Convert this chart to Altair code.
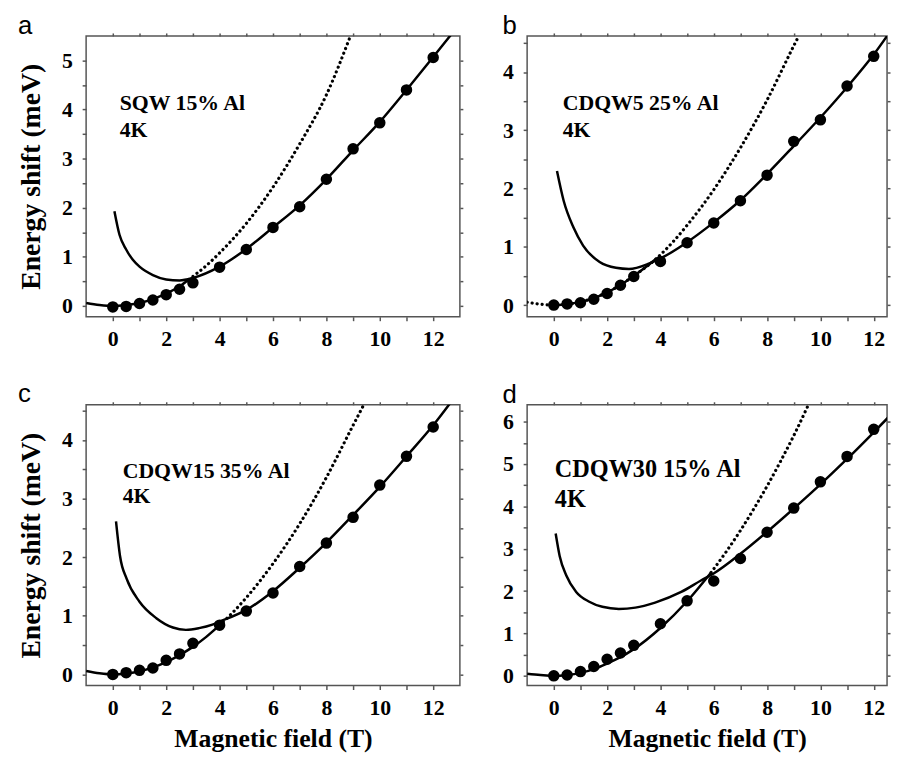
import altair as alt
import pandas as pd

# ---------------- data ----------------
field_pts = [0, 0.5, 1, 1.5, 2, 2.5, 3, 4, 5, 6, 7, 8, 9, 10, 11, 12]

# panel a : SQW 15% Al
a_pts = [-0.02, -0.01, 0.05, 0.12, 0.23, 0.34, 0.47, 0.79, 1.15, 1.6, 2.02, 2.58, 3.2, 3.73, 4.4, 5.06]
a_low_x = [-1, -0.5, 0, 0.5, 1, 1.5, 2, 2.5, 2.85]
a_low_y = [0.06, 0.02, 0, 0.02, 0.06, 0.14, 0.25, 0.4, 0.54]
a_dot_x = [2.85, 3.5, 4, 5, 6, 7, 8, 8.9]
a_dot_y = [0.54, 0.82, 1.08, 1.68, 2.42, 3.3, 4.3, 5.5]
a_high_x = [0.06, 0.25, 0.5, 0.75, 1.0, 1.5, 2.0, 2.5, 3.0, 4, 5, 6, 7, 8, 9, 10, 11, 12, 13]
a_high_y = [1.93, 1.45, 1.15, 0.94, 0.8, 0.63, 0.54, 0.52, 0.57, 0.8, 1.16, 1.6, 2.05, 2.58, 3.17, 3.75, 4.4, 5.07, 5.75]

# panel b : CDQW5 25% Al
b_pts = [0, 0.02, 0.04, 0.1, 0.2, 0.34, 0.49, 0.75, 1.07, 1.41, 1.79, 2.23, 2.81, 3.18, 3.76, 4.27]
b_low_x = [0, 0.5, 1, 1.5, 2, 2.5, 3, 3.5, 3.85]
b_low_y = [0, 0.015, 0.055, 0.12, 0.22, 0.34, 0.5, 0.67, 0.8]
b_dot_x = [-1, -0.5, 0, 0.5, 1, 2, 3, 3.85, 4.5, 5, 6, 7, 8, 9, 9.2]
b_dot_y = [0.05, 0.015, 0, 0.015, 0.055, 0.22, 0.5, 0.8, 1.1, 1.37, 1.98, 2.7, 3.52, 4.45, 4.63]
b_high_x = [0.12, 0.37, 0.74, 1.1, 1.72, 2.33, 2.82, 3.56, 4.0, 5, 6, 7, 8, 9, 10, 11, 12, 13]
b_high_y = [2.3, 1.79, 1.33, 1.02, 0.74, 0.64, 0.62, 0.71, 0.8, 1.08, 1.42, 1.8, 2.25, 2.73, 3.22, 3.74, 4.3, 4.95]

# panel c : CDQW15 35% Al
c_pts = [0, 0.03, 0.07, 0.11, 0.24, 0.35, 0.53, 0.84, 1.08, 1.39, 1.84, 2.24, 2.68, 3.23, 3.72, 4.22]
c_low_x = [-1, -0.5, 0, 0.5, 1, 1.5, 2, 2.5, 3, 3.5, 4.0]
c_low_y = [0.06, 0.02, 0, 0.015, 0.05, 0.12, 0.21, 0.33, 0.47, 0.64, 0.84]
c_dot_x = [4.0, 4.5, 5, 6, 7, 8, 9, 9.4]
c_dot_y = [0.84, 1.06, 1.31, 1.89, 2.57, 3.36, 4.25, 4.6]
c_high_x = [0.12, 0.27, 0.52, 1.0, 1.63, 2.25, 2.74, 3.23, 3.73, 4.0, 5, 6, 7, 8, 9, 10, 11, 12, 13]
c_high_y = [2.61, 2.02, 1.63, 1.24, 0.96, 0.8, 0.76, 0.79, 0.85, 0.9, 1.1, 1.42, 1.82, 2.25, 2.72, 3.2, 3.72, 4.25, 4.85]

# panel d : CDQW30 15% Al
d_pts = [0, 0.02, 0.1, 0.22, 0.39, 0.54, 0.72, 1.23, 1.77, 2.24, 2.77, 3.39, 3.96, 4.58, 5.18, 5.82]
d_low_x = [-1, -0.5, 0, 0.5, 1, 1.5, 2, 2.5, 3, 4, 5, 5.9]
d_low_y = [0.05, 0.02, 0, 0.02, 0.07, 0.16, 0.29, 0.44, 0.63, 1.13, 1.76, 2.44]
d_dot_x = [5.9, 6.5, 7, 7.5, 8, 8.5, 9, 9.55]
d_dot_y = [2.44, 2.96, 3.43, 3.94, 4.48, 5.06, 5.67, 6.4]
d_high_x = [0.07, 0.22, 0.47, 0.84, 1.33, 1.82, 2.44, 3.06, 3.8, 4.78, 5.52, 5.98, 7, 8, 9, 10, 11, 12, 13]
d_high_y = [3.36, 2.83, 2.37, 1.98, 1.75, 1.63, 1.58, 1.61, 1.73, 1.98, 2.25, 2.41, 2.88, 3.4, 3.95, 4.52, 5.12, 5.75, 6.4]

x_ticks = [0, 1, 2, 3, 4, 5, 6, 7, 8, 9, 10, 11, 12]
y_ticks_a = [0, 0.5, 1, 1.5, 2, 2.5, 3, 3.5, 4, 4.5, 5]
y_ticks_bc = [0, 0.5, 1, 1.5, 2, 2.5, 3, 3.5, 4, 4.5]
y_ticks_d = [0, 0.5, 1, 1.5, 2, 2.5, 3, 3.5, 4, 4.5, 5, 5.5, 6]

labels = ["a", "b", "c", "d"]
samples = ["SQW 15% Al", "CDQW5 25% Al", "CDQW15 35% Al", "CDQW30 15% Al"]
temp = "4K"
x_title = "Magnetic field (T)"
y_title = "Energy shift (meV)"

SERIF = "Liberation Serif"
FRAME = "#555555"


def panel(letter, sample, pts, low_x, low_y, dot_x, dot_y, high_x, high_y,
          ydom, yvals, xmax, width, show_ytitle, show_xtitle,
          ann_x, ann_y, ann_size, ann_gap):
    xscale = alt.Scale(domain=[-1, xmax], nice=False, zero=False)
    yscale = alt.Scale(domain=ydom, nice=False, zero=False)

    x_main = alt.X("B:Q", scale=xscale,
                   axis=alt.Axis(values=x_ticks,
                                 labelExpr="datum.value % 2 == 0 ? format(datum.value, 'd') : ''",
                                 title=x_title if show_xtitle else None))
    y_main = alt.Y("E:Q", scale=yscale,
                   axis=alt.Axis(values=yvals,
                                 labelExpr="datum.value % 1 == 0 ? format(datum.value, 'd') : ''",
                                 title=y_title if show_ytitle else None,
                                 titleFontSize=28))
    x_top = alt.X("B:Q", scale=xscale,
                  axis=alt.Axis(values=x_ticks, orient="top", labels=False, title=None, tickSize=3))
    y_right = alt.Y("E:Q", scale=yscale,
                    axis=alt.Axis(values=yvals, orient="right", labels=False, title=None, tickSize=3))
    x_none = alt.X("B:Q", scale=xscale, axis=None)
    y_none = alt.Y("E:Q", scale=yscale, axis=None)

    low = alt.Chart(pd.DataFrame({"B": low_x, "E": low_y})).mark_line(
        color="black", strokeWidth=2.5, clip=True, interpolate="monotone"
    ).encode(x=x_main, y=y_main)
    dot = alt.Chart(pd.DataFrame({"B": dot_x, "E": dot_y})).mark_line(
        color="black", strokeWidth=3.2, strokeDash=[0.1, 5], strokeCap="round",
        clip=True, interpolate="monotone"
    ).encode(x=x_top, y=y_right)
    high = alt.Chart(pd.DataFrame({"B": high_x, "E": high_y})).mark_line(
        color="black", strokeWidth=2.5, clip=True, interpolate="monotone"
    ).encode(x=x_none, y=y_none)
    points = alt.Chart(pd.DataFrame({"B": field_pts, "E": pts})).mark_circle(
        color="black", size=135, opacity=1
    ).encode(x=x_none, y=y_none)
    t1 = alt.Chart(pd.DataFrame({"t": [sample]})).mark_text(
        font=SERIF, fontWeight="bold", fontSize=ann_size, align="left", baseline="alphabetic", color="black"
    ).encode(text="t:N", x=alt.value(ann_x), y=alt.value(ann_y))
    t2 = alt.Chart(pd.DataFrame({"t": [temp]})).mark_text(
        font=SERIF, fontWeight="bold", fontSize=ann_size, align="left", baseline="alphabetic", color="black"
    ).encode(text="t:N", x=alt.value(ann_x), y=alt.value(ann_y + ann_gap))
    return alt.layer(low, dot, high, points, t1, t2).resolve_axis(
        x="independent", y="independent"
    ).properties(
        width=width, height=284,
        title=alt.TitleParams(letter, anchor="start", frame="bounds"),
    )


pa = panel(labels[0], samples[0], a_pts, a_low_x, a_low_y, a_dot_x, a_dot_y, a_high_x, a_high_y,
           [-0.22, 5.5], y_ticks_a, 13, 378, True, False, 34, 75, 22, 27)
pb = panel(labels[1], samples[1], b_pts, b_low_x, b_low_y, b_dot_x, b_dot_y, b_high_x, b_high_y,
           [-0.2, 4.62], y_ticks_bc, 12.5, 364, False, False, 36, 75, 22, 27)
pc = panel(labels[2], samples[2], c_pts, c_low_x, c_low_y, c_dot_x, c_dot_y, c_high_x, c_high_y,
           [-0.19, 4.6], y_ticks_bc, 13, 378, True, True, 37, 74, 22, 25)
pd_ = panel(labels[3], samples[3], d_pts, d_low_x, d_low_y, d_dot_x, d_dot_y, d_high_x, d_high_y,
            [-0.23, 6.4], y_ticks_d, 12.5, 364, False, True, 28, 73, 24.5, 30)

row1 = alt.hconcat(pa, pb, spacing=37)
row2 = alt.hconcat(pc, pd_, spacing=37)

chart = alt.vconcat(row1, row2, spacing=30).properties(
    padding={"left": 9, "top": 0, "right": 0, "bottom": 0}
).configure_view(
    stroke=FRAME, strokeWidth=1.5
).configure_axis(
    domain=False, grid=False, labelFont=SERIF, labelFontWeight="bold", labelFontSize=22,
    labelColor="black", titleFont=SERIF, titleFontWeight="bold", titleFontSize=26,
    titleColor="black", tickColor=FRAME, tickSize=4, tickWidth=1.5,
    labelOverlap=False, labelFlush=False
).configure_axisX(
    labelPadding=8, titlePadding=8
).configure_axisY(
    labelPadding=10, titlePadding=16
).configure_title(
    font="Liberation Sans", fontSize=26, fontWeight="normal", color="black", offset=-7
)

chart.save("out.html", embed_options={"renderer": "svg", "actions": False})
